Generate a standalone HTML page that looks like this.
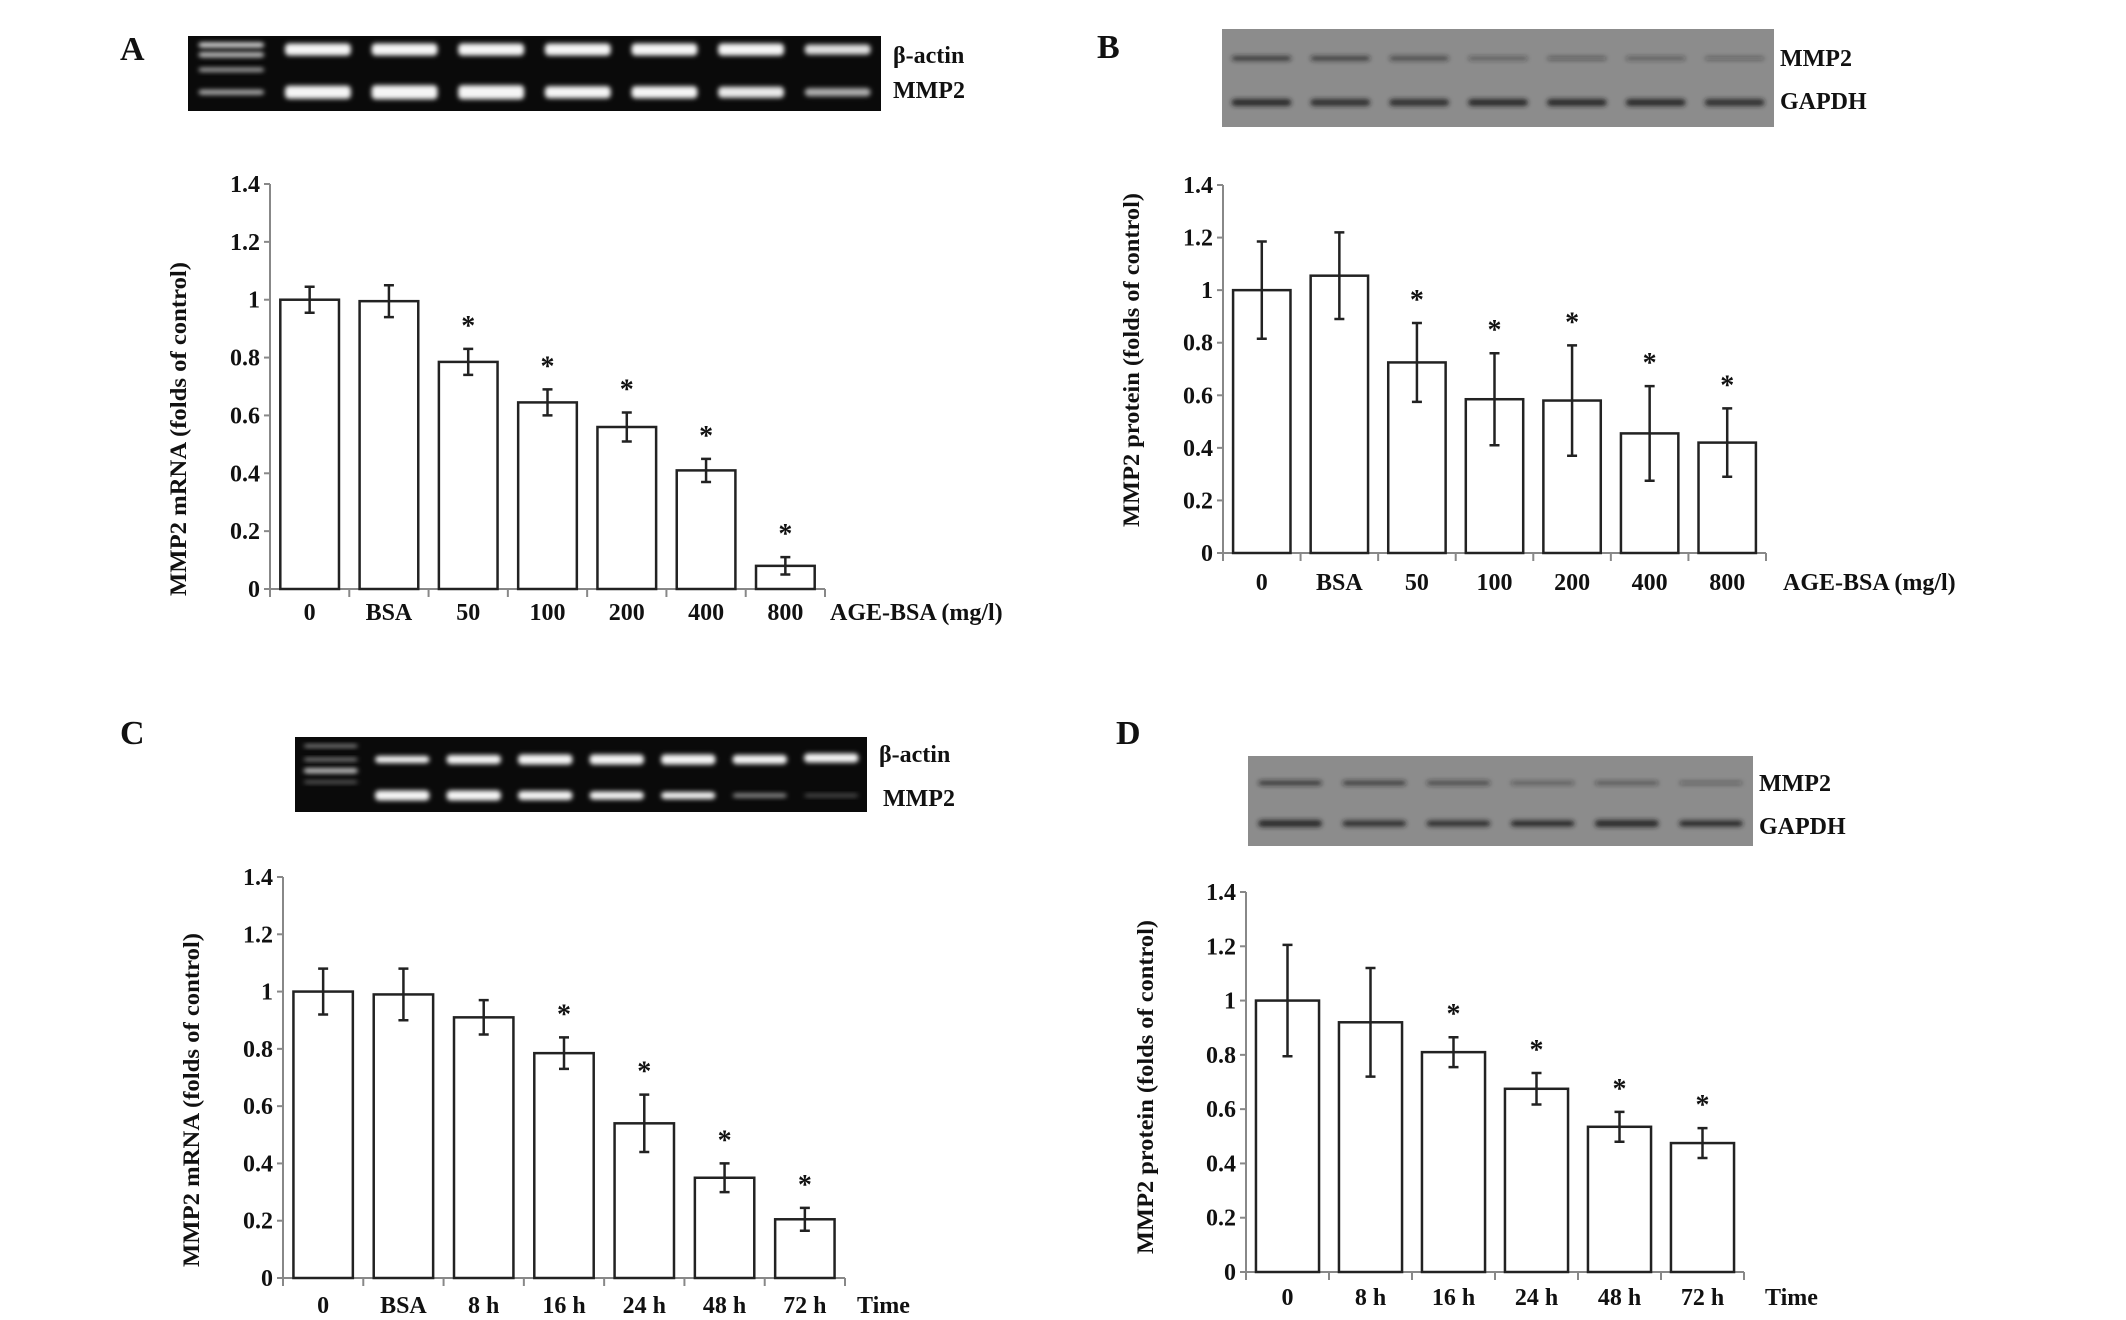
<!DOCTYPE html>
<html><head><meta charset="utf-8">
<style>
html,body{margin:0;padding:0;background:#fff;}
svg{display:block;}
text{font-family:"Liberation Serif",serif;font-weight:bold;fill:#111;}
</style></head>
<body>
<svg id="fig" width="2126" height="1320" viewBox="0 0 2126 1320" xmlns="http://www.w3.org/2000/svg">
<defs>
<filter id="blur1" x="-20%" y="-100%" width="140%" height="300%"><feGaussianBlur stdDeviation="2.5"/></filter>
</defs>
</svg>
<script>
// Panel A data
const catsA = ["0","BSA","50","100","200","400","800"];
const valsA = [1.0,0.995,0.785,0.645,0.56,0.41,0.08];
const errsA = [0.045,0.055,0.045,0.045,0.05,0.04,0.03];
const starsA = [0,0,1,1,1,1,1];
// Panel B data
const catsB = ["0","BSA","50","100","200","400","800"];
const valsB = [1.0,1.055,0.725,0.585,0.58,0.455,0.42];
const errsB = [0.185,0.165,0.15,0.175,0.21,0.18,0.13];
const starsB = [0,0,1,1,1,1,1];
// Panel C data
const catsC = ["0","BSA","8 h","16 h","24 h","48 h","72 h"];
const valsC = [1.0,0.99,0.91,0.785,0.54,0.35,0.205];
const errsC = [0.08,0.09,0.06,0.055,0.1,0.05,0.04];
const starsC = [0,0,0,1,1,1,1];
// Panel D data
const catsD = ["0","8 h","16 h","24 h","48 h","72 h"];
const valsD = [1.0,0.92,0.81,0.675,0.535,0.475];
const errsD = [0.205,0.2,0.055,0.058,0.055,0.055];
const starsD = [0,0,1,1,1,1];
const yTicks = ["0","0.2","0.4","0.6","0.8","1","1.2","1.4"];
const yTickVals = [0,0.2,0.4,0.6,0.8,1,1.2,1.4];

const NS="http://www.w3.org/2000/svg";
const svg=document.getElementById('fig');
function mk(tag,attrs,parent){const e=document.createElementNS(NS,tag);for(const k in attrs)e.setAttribute(k,attrs[k]);(parent||svg).appendChild(e);return e;}
function txt(s,x,y,size,parent,anchor){const t=mk('text',{x:x,y:y,'font-size':size,'text-anchor':anchor||'start'},parent);t.textContent=s;return t;}

function panel(id,cfg,cats,vals,errs,stars){
  const g=mk('g',{});
  
  
  const y=v=>cfg.y0-(v/1.4)*(cfg.y0-cfg.ytop);
  const cw=(cfg.x1-cfg.x0)/cats.length;
  const xc=i=>cfg.x0+cw*(i+0.5);
  // letter
  const L=txt(id,cfg.lx,cfg.ly,34,g);
  
  
  // axes
  const ax=mk('line',{x1:cfg.x0,y1:cfg.ytop,x2:cfg.x0,y2:cfg.y0,stroke:'#888','stroke-width':2},g);
  
  
  const bx=mk('line',{x1:cfg.x0-6,y1:cfg.y0,x2:cfg.x1,y2:cfg.y0,stroke:'#888','stroke-width':2},g);
  
  
  yTickVals.forEach((v,i)=>{
    mk('line',{x1:cfg.x0-6,y1:y(v),x2:cfg.x0,y2:y(v),stroke:'#888','stroke-width':2},g);
    const t=txt(yTicks[i],cfg.x0-10,y(v)+8,24,g,'end');
    
    
  });
  for(let i=0;i<=cats.length;i++){mk('line',{x1:cfg.x0+cw*i,y1:cfg.y0,x2:cfg.x0+cw*i,y2:cfg.y0+8,stroke:'#888','stroke-width':2},g);}
  cats.forEach((c,i)=>{
    const bw=cw*cfg.bwf;
    const r=mk('rect',{x:xc(i)-bw/2,y:y(vals[i]),width:bw,height:cfg.y0-y(vals[i]),fill:'#fff',stroke:'#222','stroke-width':2.5},g);
    
    
    const eb=mk('path',{d:`M${xc(i)} ${y(vals[i]+errs[i])}V${y(vals[i]-errs[i])}M${xc(i)-5} ${y(vals[i]+errs[i])}h10M${xc(i)-5} ${y(vals[i]-errs[i])}h10`,stroke:'#222','stroke-width':2.5,fill:'none'},g);
    
    
    if(stars[i]){const s=txt('*',xc(i),y(vals[i]+errs[i])-14,28,g,'middle');
      
      }
    const t=txt(c,xc(i),cfg.xly,24,g,'middle');
    
    
  });
  const xt=txt(cfg.xtitle,cfg.xtx,cfg.xly,24,g);
  
  
  const yt=mk('text',{x:0,y:0,'font-size':23,'text-anchor':'middle',transform:`translate(${cfg.ttx},${cfg.tty}) rotate(-90)`,textLength:334,lengthAdjust:'spacingAndGlyphs'},g);
  yt.textContent=cfg.ytitle;
  
  
  // image
  const im=mk('g',{},g);
  
  
  const b=cfg.img;
  mk('rect',{x:b[0],y:b[1],width:b[2]-b[0],height:b[3]-b[1],fill:cfg.gel?'#0a0a0a':'#8c8c8c'},im);
  const lanes=cfg.lanes, lw=(b[2]-b[0])/lanes.length;
  lanes.forEach((ln,i)=>{
    ln.forEach(band=>{
      mk('rect',{x:b[0]+lw*i+lw*0.12,y:b[1]+(b[3]-b[1])*band[0]-band[1]/2,width:lw*0.76,height:band[1],rx:4,fill:cfg.gel?`rgba(245,245,245,${band[2]})`:`rgba(30,30,30,${band[2]})`,filter:'url(#blur1)'},im);
    });
  });
  cfg.imgLabels.forEach(l=>{const t=txt(l[0],l[1],l[2],24,g);
    
    });
}

const ladder=[[0.12,5,0.9],[0.25,5,0.8],[0.45,4,0.7],[0.75,5,0.7]];
panel('A',{x0:270,x1:825,y0:589,ytop:184,bwf:0.74,lx:120,ly:60,xly:620,xtitle:'AGE-BSA (mg/l)',xtx:830,ttx:186,tty:429,ytitle:'MMP2 mRNA (folds of control)',
  gel:1,img:[188,36,881,111],
  lanes:[ladder,[[0.18,12,1],[0.75,13,1]],[[0.18,12,1],[0.75,14,1]],[[0.18,12,1],[0.75,14,1]],[[0.18,12,1],[0.75,12,1]],[[0.18,12,1],[0.75,12,1]],[[0.18,12,1],[0.75,11,0.95]],[[0.18,10,0.9],[0.75,8,0.7]]],
  imgLabels:[['β-actin',893,63],['MMP2',893,98]]},catsA,valsA,errsA,starsA);
panel('B',{x0:1223,x1:1766,y0:553,ytop:185,bwf:0.74,lx:1097,ly:58,xly:590,xtitle:'AGE-BSA (mg/l)',xtx:1783,ttx:1139,tty:360,ytitle:'MMP2 protein (folds of control)',
  gel:0,img:[1222,29,1774,127],
  lanes:[[[0.3,5,0.7],[0.75,7,0.9]],[[0.3,5,0.65],[0.75,7,0.85]],[[0.3,5,0.55],[0.75,7,0.85]],[[0.3,4,0.45],[0.75,7,0.9]],[[0.3,4,0.4],[0.75,7,0.9]],[[0.3,4,0.45],[0.75,7,0.9]],[[0.3,4,0.35],[0.75,7,0.85]]],
  imgLabels:[['MMP2',1780,66],['GAPDH',1780,109]]},catsB,valsB,errsB,starsB);
panel('C',{x0:283,x1:845,y0:1278,ytop:877,bwf:0.74,lx:120,ly:744,xly:1313,xtitle:'Time',xtx:857,ttx:199,tty:1100,ytitle:'MMP2 mRNA (folds of control)',
  gel:1,img:[295,737,867,812],
  lanes:[[[0.12,3,0.6],[0.3,3,0.6],[0.45,5,0.8],[0.6,3,0.4]],[[0.3,7,1],[0.78,10,1]],[[0.3,9,1],[0.78,10,1]],[[0.3,10,1],[0.78,9,1]],[[0.3,10,1],[0.78,8,1]],[[0.3,10,1],[0.78,7,1]],[[0.3,9,1],[0.78,4,0.6]],[[0.28,9,1],[0.78,3,0.35]]],
  imgLabels:[['β-actin',879,762],['MMP2',883,806]]},catsC,valsC,errsC,starsC);
panel('D',{x0:1246,x1:1744,y0:1272,ytop:892,bwf:0.76,lx:1116,ly:744,xly:1305,xtitle:'Time',xtx:1765,ttx:1153,tty:1087,ytitle:'MMP2 protein (folds of control)',
  gel:0,img:[1248,756,1753,846],
  lanes:[[[0.3,5,0.7],[0.75,7,0.9]],[[0.3,5,0.65],[0.75,6,0.85]],[[0.3,5,0.55],[0.75,6,0.85]],[[0.3,4,0.45],[0.75,6,0.9]],[[0.3,4,0.5],[0.75,7,0.9]],[[0.3,4,0.35],[0.75,6,0.9]]],
  imgLabels:[['MMP2',1759,791],['GAPDH',1759,834]]},catsD,valsD,errsD,starsD);
</script>
</body></html>
